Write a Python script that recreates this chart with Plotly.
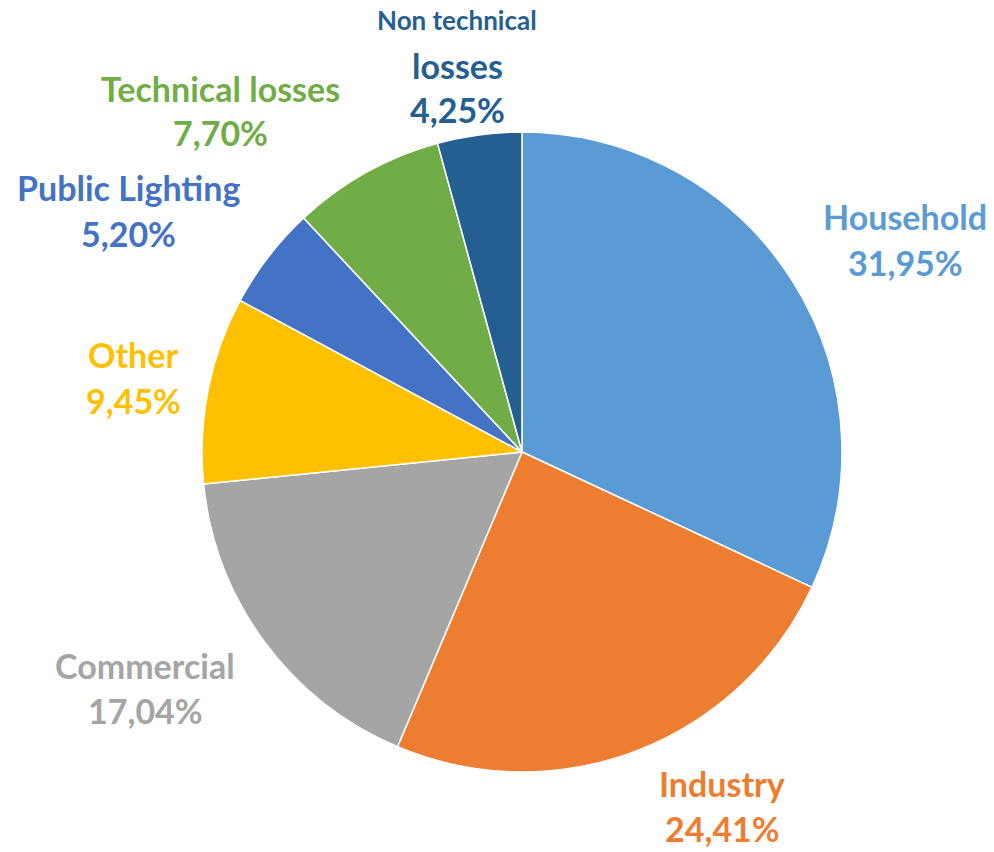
import plotly.graph_objects as go

categories = ["Household", "Industry", "Commercial", "Other", "Public Lighting",
              "Technical losses", "Non technical losses"]
values = [31.95, 24.41, 17.04, 9.45, 5.20, 7.70, 4.25]
value_labels = ["31,95%", "24,41%", "17,04%", "9,45%", "5,20%", "7,70%", "4,25%"]
colors = ["#5B9BD5", "#ED7D31", "#A5A5A5", "#FFC000", "#4472C4", "#70AD47", "#255E91"]
# label text lines (name split as shown in chart)
label_lines = [["Household"], ["Industry"], ["Commercial"], ["Other"], ["Public Lighting"],
               ["Technical losses"], ["Non technical", "losses"]]
# label anchor centers in pixels (x, y of first line)
label_pos = [(905, 217), (722, 783), (145, 665), (133, 355), (128, 188), (220, 88), (457, 20)]

W, H = 994, 852
cx, cy, r = 522, 452, 320

fig = go.Figure(go.Pie(
    labels=categories, values=values, sort=False, direction="clockwise", rotation=0,
    marker=dict(colors=colors, line=dict(color="white", width=1.5)),
    textinfo="none", hoverinfo="label+percent", showlegend=False,
    domain=dict(x=[(cx - r) / W, (cx + r) / W], y=[(H - cy - r) / H, (H - cy + r) / H]),
))

font_family = "Lato, 'Open Sans', sans-serif"
line_h = 45
anns = []
for lines, val, col, (px, py) in zip(label_lines, value_labels, colors, label_pos):
    for i, t in enumerate(lines + [val]):
        size = 26 if t == "Non technical" else 34
        anns.append(dict(
            x=px / W, y=(H - (py + i * line_h)) / H, xref="paper", yref="paper",
            text="<b>" + t + "</b>", showarrow=False, xanchor="center", yanchor="middle",
            font=dict(family=font_family, size=size, color=col),
        ))

fig.update_layout(
    width=W, height=H, margin=dict(l=0, r=0, t=0, b=0),
    paper_bgcolor="white", plot_bgcolor="white", annotations=anns,
)
fig.write_html("out.html", config={"displayModeBar": False},
               post_script="document.body.style.margin='0';")
